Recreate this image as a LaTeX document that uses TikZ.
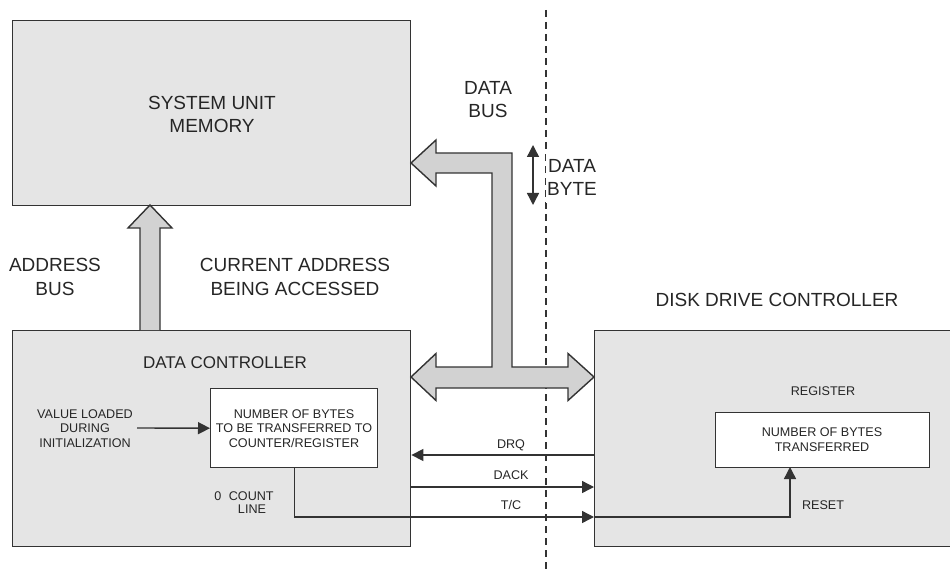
\documentclass[tikz,border=0pt]{standalone}
\usepackage{fontspec}
\setmainfont{Liberation Sans}
\usetikzlibrary{arrows.meta}
\definecolor{textc}{HTML}{262626}
\definecolor{linec}{HTML}{333333}
\definecolor{boxfill}{HTML}{E5E5E5}
\definecolor{busfill}{HTML}{D2D2D2}
\tikzset{
  box/.style={draw=linec, fill=boxfill, line width=1.4pt, inner sep=0pt},
  inbox/.style={draw=linec, fill=white, line width=1.4pt, inner sep=0pt},
  big/.style={font=\fontsize{19}{23.5}\selectfont, text=textc, align=center, inner sep=0pt},
  small/.style={font=\fontsize{12.6}{14.3}\selectfont, text=textc, align=center, inner sep=0pt},
  sig/.style={draw=linec, line width=1.4pt, -{Triangle[length=12pt,width=12pt]}},
  bothsig/.style={draw=linec, line width=1.4pt, {Triangle[length=12pt,width=12pt]}-{Triangle[length=12pt,width=12pt]}},
  bus/.style={draw=linec, fill=busfill, line width=1.4pt, line join=miter},
  divider/.style={draw=linec, line width=1.6pt, dash pattern=on 7pt off 5pt},
}
\begin{document}
\begin{tikzpicture}[x=1pt, y=-1pt]
\useasboundingbox (0,0) rectangle (950,569);

% dividing line between host side and drive side
\draw[divider] (546,10) -- (546,569);

% main blocks
\node[box, anchor=north west, minimum width=398pt, minimum height=185pt] (mem) at (12,20) {};
\node[box, anchor=north west, minimum width=398pt, minimum height=216pt] (dc) at (12,330) {};
\node[box, anchor=north west, minimum width=380pt, minimum height=216pt] (ddc) at (594,330) {};

% inner registers
\node[inbox, anchor=north west, minimum width=167pt, minimum height=79pt] (cnt) at (210,388) {};
\node[inbox, anchor=north west, minimum width=214pt, minimum height=55pt] (reg) at (715,412) {};

% address bus (wide arrow up into memory)
\path[bus] (140,330) -- (140,228) -- (128,228) -- (150,205) -- (172,228) -- (160,228) -- (160,330);

% data bus (wide double-headed arrows)
\path[bus] (411,163) -- (436,140) -- (436,153) -- (512,153) -- (512,367) -- (568,367)
  -- (568,353.5) -- (594,377) -- (568,400.5) -- (568,388) -- (436,388) -- (436,400.5)
  -- (411,377) -- (436,353.5) -- (436,367) -- (492,367) -- (492,173) -- (436,173)
  -- (436,186) -- cycle;

% texts (base anchor = baseline of the last line)
\node[big, anchor=base] (memlbl) at (212,133) {SYSTEM UNIT\\MEMORY};
\node[big, anchor=base, font=\fontsize{17}{21}\selectfont] (dclbl) at (225,368) {DATA CONTROLLER};
\node[big, anchor=base] (ddclbl) at (777,306) {DISK DRIVE CONTROLLER};
\node[big, anchor=base] (ablbl) at (55,295) {ADDRESS\\BUS};
\node[big, anchor=base] (calbl) at (295,295) {CURRENT ADDRESS\\BEING ACCESSED};
\node[big, anchor=base] (dblbl) at (488,118) {DATA\\BUS};
\node[big, anchor=base, fill=white, inner ysep=7pt, inner xsep=1pt] (dbyte) at (572,196) {DATA\\BYTE};

\node[small, anchor=base] (cnttxt) at (294,447) {NUMBER OF BYTES\\TO BE TRANSFERRED TO\\COUNTER/REGISTER};
\node[small, anchor=base] (init) at (85,447) {VALUE LOADED\\DURING\\INITIALIZATION};
\node[small, anchor=base] (cl1) at (244,500) {0\hspace{0.6em}COUNT};
\node[small, anchor=base] (cl2) at (252,513) {LINE};
\node[small, anchor=base] (reglbl) at (823,395) {REGISTER};
\node[small, anchor=base] (regtxt) at (822,451) {NUMBER OF BYTES\\TRANSFERRED};
\node[small, anchor=base] (rstlbl) at (823,509) {RESET};
\node[small, anchor=base] (drqlbl) at (511,448) {DRQ};
\node[small, anchor=base] (dacklbl) at (511,479) {DACK};
\node[small, anchor=base] (tclbl) at (511,509) {T/C};

% signal lines
\coordinate (initpt) at (137,428);
\draw[sig] (initpt) -- (cnt.west);

\coordinate (drqy) at (0,455);
\coordinate (dacky) at (0,487);
\coordinate (tcy) at (0,517);
\draw[sig] (ddc.west |- drqy) -- (dc.east |- drqy);
\draw[sig] (dc.east |- dacky) -- (ddc.west |- dacky);
\draw[sig] (cnt.south) |- (ddc.west |- tcy);
\coordinate (rst) at (790,467);
\draw[sig] (ddc.west |- tcy) -| (rst);

% data byte arrow
\coordinate (dbtop) at (533,145);
\coordinate (dbbot) at (533,205);
\draw[bothsig] (dbtop) -- (dbbot);
\end{tikzpicture}
\end{document}
